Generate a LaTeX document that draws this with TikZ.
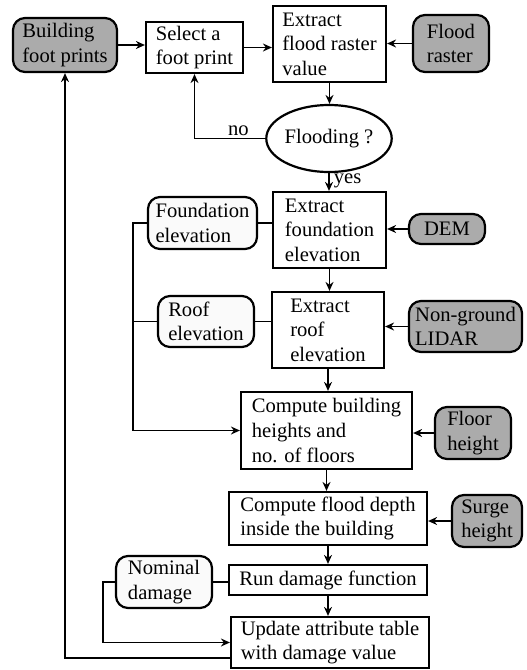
\documentclass[tikz,border=0pt]{standalone}
\usepackage{fontspec}
\setmainfont{Liberation Serif}
\usetikzlibrary{arrows.meta,shapes.geometric}
\begin{document}
\begin{tikzpicture}[x=0.5pt,y=-0.5pt,
  every node/.style={font=\rmfamily\fontsize{10.3}{12.3}\selectfont, inner sep=0pt, align=left},
  proc/.style={draw, line width=1.1pt, rectangle},
  src/.style={draw, line width=1.1pt, rounded corners=6pt, fill=black!33},
  res/.style={draw, line width=1.1pt, rounded corners=6pt, fill=black!2},
  dec/.style={draw, line width=1.1pt, ellipse},
  conn/.style={line width=0.9pt},
  arr/.style={conn, -{Stealth[length=4.5pt,width=4pt]}}]
\useasboundingbox (0,0) rectangle (526,670);
% nodes
\node[src, minimum width=52pt, minimum height=27pt] (bfp) at (65,45) {Building\\foot prints};
\node[proc, minimum width=48.5pt, minimum height=25.5pt] (sel) at (194.5,47.5) {Select a\\foot print};
\node[proc, minimum width=56.5pt, minimum height=38pt] (efr) at (329.5,44) {Extract\\flood raster\\value};
\node[src, minimum width=38pt, minimum height=28.5pt] (fr) at (451,43.5) {Flood\\raster};
\node[dec, minimum width=51pt, minimum height=33.5pt] (fl) at (329,138.5) {Flooding ?};
\node[proc, minimum width=56.5pt, minimum height=38pt] (efe) at (329.5,230) {Extract\\foundation\\elevation};
\node[res, minimum width=54.5pt, minimum height=26pt] (fe) at (202.5,223) {Foundation\\elevation};
\node[src, minimum width=38pt, minimum height=15pt] (dem) at (447,229) {DEM};
\node[proc, minimum width=56pt, minimum height=38pt] (ere) at (328,330) {Extract\\roof\\elevation};
\node[res, minimum width=48pt, minimum height=25.5pt] (re) at (206,321.5) {Roof\\elevation};
\node[src, minimum width=56.5pt, minimum height=25.5pt] (li) at (465.5,326.5) {Non-ground\\LIDAR};
\node[proc, minimum width=85.5pt, minimum height=38.5pt] (cbh) at (326.5,430.5) {Compute building\\heights and\\no. of floors};
\node[src, minimum width=38pt, minimum height=26pt] (fh) at (473,433) {Floor\\height};
\node[proc, minimum width=99pt, minimum height=26.5pt] (cfd) at (328,518.5) {Compute flood depth\\inside the building};
\node[src, minimum width=35pt, minimum height=26pt] (sh) at (487,521) {Surge\\height};
\node[proc, minimum width=99pt, minimum height=15pt] (rdf) at (328,580) {Run damage function};
\node[res, minimum width=48pt, minimum height=26pt] (nd) at (164,582) {Nominal\\damage};
\node[proc, minimum width=99pt, minimum height=25.5pt] (uat) at (330,642.5) {Update attribute table\\with damage value};
\coordinate (busA) at (133,0);
\coordinate (busB) at (103,0);
% connectors
\draw[arr] (bfp.east) -- (bfp.east -| sel.west);
\draw[arr] (sel.east) -- (sel.east -| efr.west);
\draw[arr] (fr.west) -- (fr.west -| efr.east);
\draw[arr] (efr.south) -- (efr.south |- fl.north);
\draw[arr] (fl.west) -| node[pos=0.19, above=1pt] {no} (sel.south);
\draw[arr] (fl.south) -- node[right=2pt, pos=0.45] {yes} (fl.south |- efe.north);
\draw[conn] (fe.east) -- (fe.east -| efe.west);
\draw[arr] (dem.west) -- (dem.west -| efe.east);
\draw[arr] (efe.south) -- (efe.south |- ere.north);
\draw[conn] (re.east) -- (re.east -| ere.west);
\draw[arr] (li.west) -- (li.west -| ere.east);
\draw[arr] (fe.west) -- (fe.west -| busA) |- (cbh.west);
\draw[conn] (re.west) -- (re.west -| busA);
\draw[arr] (ere.south) -- (ere.south |- cbh.north);
\draw[arr] (fh.west) -- (fh.west -| cbh.east);
\draw[arr] (cbh.south) -- (cbh.south |- cfd.north);
\draw[arr] (sh.west) -- (sh.west -| cfd.east);
\draw[arr] (cfd.south) -- (cfd.south |- rdf.north);
\draw[conn] (nd.east) -- (nd.east -| rdf.west);
\draw[arr] (rdf.south) -- (rdf.south |- uat.north);
\draw[arr] (nd.west) -- (nd.west -| busB) |- (uat.west);
\draw[arr] ([yshift=5.5pt]uat.south west) -| (bfp.south);
\end{tikzpicture}
\end{document}
